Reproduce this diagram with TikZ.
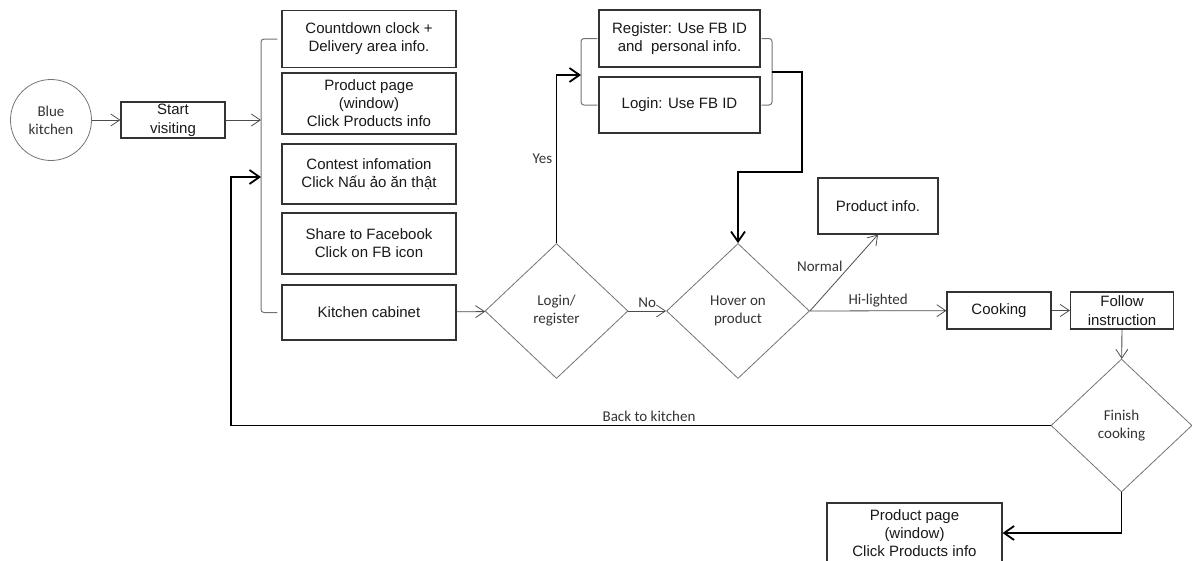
\documentclass[tikz,border=0pt]{standalone}
\usepackage{fontspec}
\setmainfont{Liberation Sans}
\newfontfamily\calibri{Carlito}
\usetikzlibrary{arrows.meta,positioning,shapes.geometric}

\begin{document}
\begin{tikzpicture}
[x=1pt,y=-1pt,
 place/.style={rectangle,draw=black!80,line width=1.1pt,fill=white,align=center,inner sep=0pt,font=\fontsize{15}{18}\selectfont,text=black!90},
 decision/.style={diamond,draw=black!55,line width=0.8pt,align=center,inner sep=0pt,minimum width=143pt,minimum height=135pt,font=\calibri\fontsize{15}{18}\selectfont,text=black!80},
 flow/.style={draw=black!70,line width=0.8pt,-{Straight Barb[length=9pt,width=12pt]}},
 mainflow/.style={draw=black,line width=1.8pt,-{Straight Barb[length=10pt,width=14pt]}},
 brace/.style={draw=black!55,line width=1pt,rounded corners=3pt},
 tag/.style={font=\calibri\fontsize{15}{18}\selectfont,text=black!80}]

\useasboundingbox (0,0) rectangle (1192,560);

% entry
\node[circle,draw=black!55,line width=0.8pt,minimum size=81pt,inner sep=0pt,align=center,font=\calibri\fontsize{15}{18}\selectfont,text=black!80] (blue) at (51,120) {Blue\\kitchen};
\node[place,minimum width=104pt,minimum height=36pt,font=\fontsize{15}{19}\selectfont] (start) at (173,120) {Start\\visiting};

% menu column
\node[place,minimum width=174pt,minimum height=57pt] (clock) at (369,39) {Countdown clock +\\Delivery area info.};
\node[place,minimum width=174pt,minimum height=61pt] (page) at (369,103.5) {Product page\\(window)\\Click Products info};
\node[place,minimum width=174pt,minimum height=60pt] (contest) at (369,174) {Contest infomation\\Click Nấu ảo ăn thật};
\node[place,minimum width=174pt,minimum height=61pt] (share) at (369,243.5) {Share to Facebook\\Click on FB icon};
\node[place,minimum width=174pt,minimum height=55pt] (cabinet) at (369,312.5) {Kitchen cabinet};
\coordinate (menu) at (261,0);
\draw[brace] ([xshift=-4pt]clock.west) -- (clock.west -| menu) -- (cabinet.west -| menu) -- ([xshift=-4pt]cabinet.west);

% login / register
\node[decision] (login) at (556.5,311) {Login/\\register};
\node[place,minimum width=161pt,minimum height=57pt] (register) at (679.5,38.5) {Register: Use FB ID\\and\ \ personal info.};
\node[place,minimum width=161pt,minimum height=56pt] (fblogin) at (679.5,105) {Login: Use FB ID};
\coordinate (regL) at (581,75);
\coordinate (regR) at (772,72);
\draw[brace] ([xshift=-1pt]register.west) -- (register.west -| regL) -- (fblogin.west -| regL) -- ([xshift=-1pt]fblogin.west);
\draw[brace] ([xshift=1pt]register.east) -- (register.east -| regR) -- (fblogin.east -| regR) -- ([xshift=1pt]fblogin.east);

% product
\node[decision] (hover) at (738,311) {Hover on\\product};
\node[place,minimum width=120pt,minimum height=56pt] (pinfo) at (878,206) {Product info.};
\node[place,minimum width=104pt,minimum height=37pt] (cook) at (999,310.5) {Cooking};
\node[place,minimum width=103pt,minimum height=37pt,font=\fontsize{15}{19}\selectfont] (follow) at (1122,310.5) {Follow\\instruction};
\node[decision,minimum width=141pt,minimum height=133pt] (finish) at (1121.5,425.5) {Finish\\cooking};
\node[place,minimum width=175pt,minimum height=60pt] (window) at (914.5,533) {Product page\\(window)\\Click Products info};
\coordinate (back) at (231,177);

% connectors
\draw[flow] (blue) -- (start);
\draw[flow] (start) -- (start -| menu);
\draw[flow] (cabinet) -- (login);
\draw[mainflow] (login.north) |- node[tag,pos=0.25,left]{Yes} (regL);
\draw[mainflow] (regR) -| ++(30,100) -| (hover.north);
\draw[flow] (login) -- node[tag,above]{No} (hover);
\draw[flow] (hover.east) -- node[tag,above left,inner sep=1pt]{Normal} (pinfo.south);
\draw[flow] (hover.east) -- node[tag,above]{Hi-lighted} (cook);
\draw[flow] (cook) -- (follow);
\draw[flow] (follow) -- (finish);
\draw[mainflow] (finish.west) -| node[tag,pos=0.245,above]{Back to kitchen} (back) -- (back -| menu);
\draw[mainflow] (finish.south) |- (window.east);
\end{tikzpicture}
\end{document}
